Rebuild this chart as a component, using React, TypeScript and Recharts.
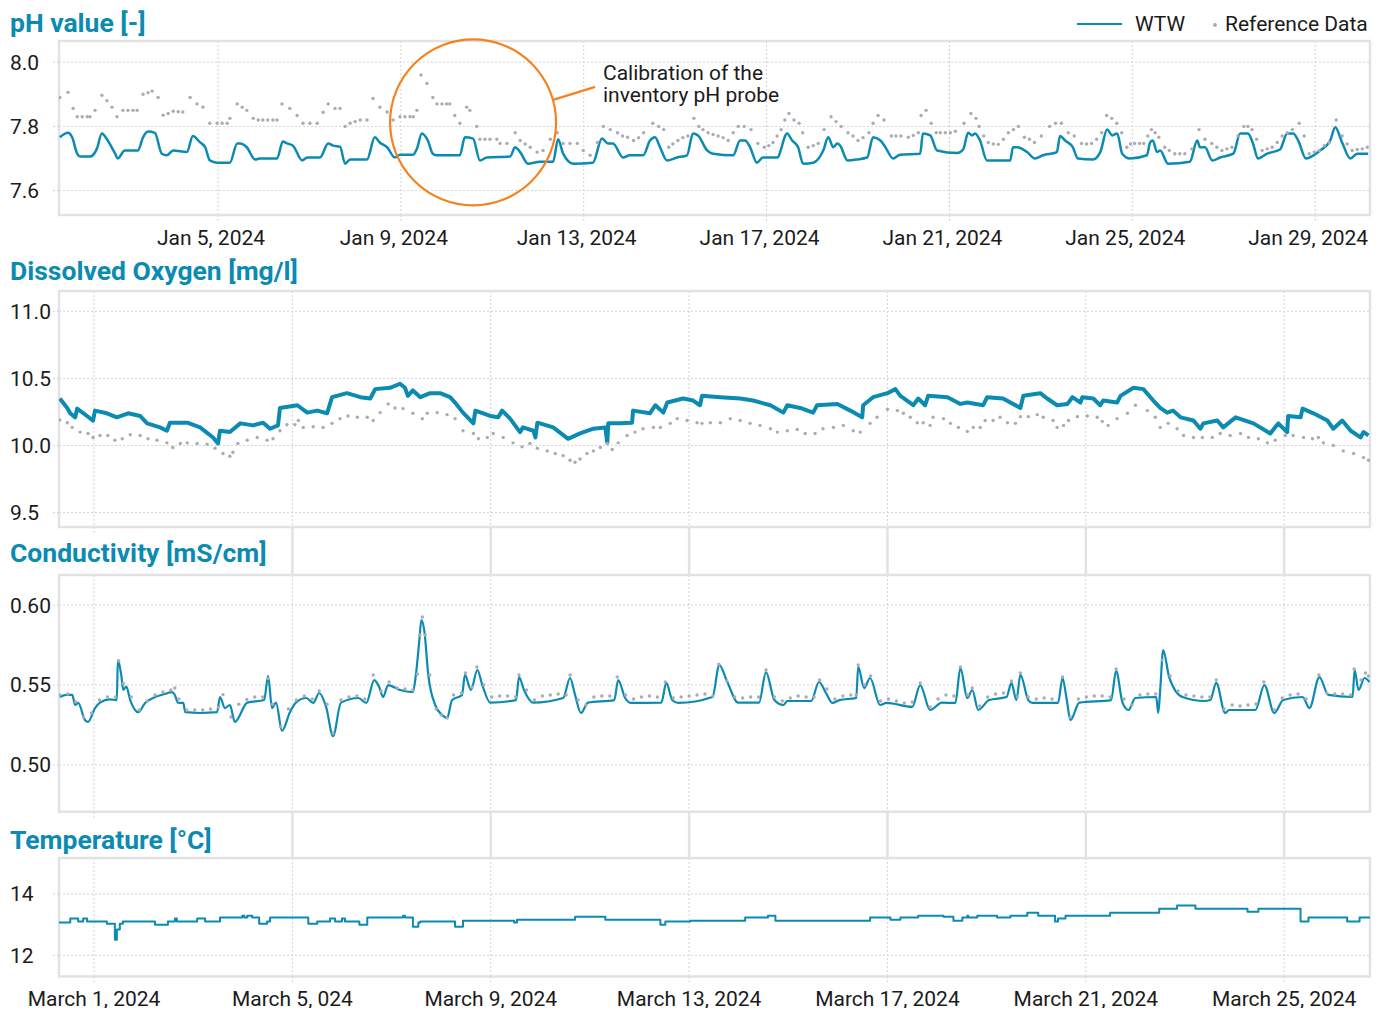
import React from 'react';
import {
  LineChart,
  Line,
  XAxis,
  YAxis,
  CartesianGrid,
  ReferenceArea,
  ReferenceDot,
  ReferenceLine,
} from 'recharts';

type Pt = [number, number];

const BLUE = '#0b8ab2';
const DOT = '#a9abb5';
const FRAME = '#e1e1e6';
const GRID = '#d3d3d8';
const ORANGE = '#f5821f';
const INK = '#1b1b1b';
const FONT = 'Roboto, "Noto Sans", sans-serif';
const FS = 21;

// ---- pH, January 2024 (x = day of month) ----
const phTicks = [5, 9, 13, 17, 21, 25, 29];
const phYTicks = [7.6, 7.8, 8.0];

const phWtw: Pt[] = [
  [1.54, 7.766], [1.72, 7.78], [1.81, 7.766], [1.92, 7.715], [1.98, 7.706], [2.2, 7.706], [2.35, 7.73],
  [2.46, 7.778], [2.57, 7.76], [2.75, 7.715], [2.81, 7.7], [2.96, 7.725], [3.25, 7.725], [3.36, 7.766],
  [3.47, 7.784], [3.62, 7.78], [3.77, 7.715], [3.88, 7.71], [4.02, 7.725], [4.32, 7.72], [4.45, 7.77],
  [4.61, 7.75], [4.72, 7.735], [4.82, 7.694], [4.98, 7.687], [5.26, 7.687], [5.42, 7.747], [5.48, 7.747],
  [5.63, 7.735], [5.81, 7.697], [5.92, 7.7], [6.29, 7.7], [6.42, 7.753], [6.51, 7.747], [6.64, 7.74],
  [6.84, 7.694], [6.95, 7.703], [7.23, 7.703], [7.41, 7.747], [7.52, 7.74], [7.67, 7.737], [7.78, 7.684],
  [7.89, 7.697], [8.26, 7.697], [8.43, 7.766], [8.54, 7.75], [8.7, 7.735], [8.87, 7.703], [8.98, 7.712],
  [9.27, 7.712], [9.35, 7.73], [9.46, 7.778], [9.59, 7.756], [9.7, 7.715], [9.79, 7.71], [10.29, 7.71],
  [10.4, 7.766], [10.58, 7.762], [10.73, 7.694], [10.88, 7.703], [11.39, 7.706], [11.5, 7.735], [11.61, 7.72],
  [11.78, 7.684], [12.04, 7.69], [12.33, 7.69], [12.44, 7.76], [12.55, 7.715], [12.77, 7.684], [13.2, 7.687],
  [13.4, 7.762], [13.53, 7.747], [13.64, 7.747], [13.86, 7.703], [14.01, 7.71], [14.3, 7.71], [14.45, 7.756],
  [14.56, 7.766], [14.67, 7.735], [14.82, 7.694], [15.04, 7.703], [15.26, 7.71], [15.39, 7.778], [15.5, 7.772],
  [15.7, 7.725], [15.83, 7.715], [16.27, 7.71], [16.42, 7.756], [16.53, 7.756], [16.64, 7.735], [16.79, 7.687],
  [16.92, 7.703], [17.23, 7.703], [17.45, 7.778], [17.56, 7.756], [17.69, 7.735], [17.8, 7.684], [18.02, 7.687],
  [18.24, 7.725], [18.35, 7.766], [18.46, 7.735], [18.55, 7.747], [18.61, 7.74], [18.77, 7.694], [18.98, 7.697],
  [19.2, 7.703], [19.33, 7.766], [19.49, 7.756], [19.6, 7.735], [19.77, 7.7], [19.92, 7.712], [20.36, 7.715],
  [20.42, 7.778], [20.58, 7.772], [20.73, 7.725], [21.17, 7.717], [21.3, 7.728], [21.41, 7.78], [21.5, 7.772],
  [21.56, 7.778], [21.67, 7.756], [21.82, 7.694], [22.33, 7.694], [22.39, 7.735], [22.48, 7.735], [22.7, 7.72],
  [22.87, 7.7], [23.05, 7.71], [23.35, 7.72], [23.42, 7.77], [23.53, 7.756], [23.7, 7.735], [23.81, 7.7],
  [24.14, 7.697], [24.3, 7.72], [24.45, 7.79], [24.56, 7.772], [24.67, 7.778], [24.78, 7.715], [24.95, 7.7],
  [25.32, 7.71], [25.39, 7.75], [25.45, 7.756], [25.54, 7.72], [25.61, 7.725], [25.78, 7.684], [26.26, 7.69],
  [26.42, 7.756], [26.48, 7.735], [26.59, 7.735], [26.75, 7.694], [26.92, 7.703], [27.21, 7.715], [27.36, 7.778],
  [27.53, 7.778], [27.64, 7.747], [27.75, 7.7], [27.95, 7.715], [28.23, 7.728], [28.39, 7.778], [28.52, 7.778],
  [28.63, 7.756], [28.8, 7.7], [29.11, 7.725], [29.33, 7.756], [29.44, 7.797], [29.59, 7.75], [29.77, 7.7],
  [29.92, 7.715], [30.16, 7.715],
];

const phRef: Pt[] = [
  [1.54, 7.89], [1.72, 7.906], [1.83, 7.856], [1.92, 7.83], [2.03, 7.83], [2.14, 7.83], [2.2, 7.83], [2.31, 7.85],
  [2.46, 7.897], [2.57, 7.88], [2.68, 7.86], [2.79, 7.83], [2.92, 7.85], [3.03, 7.85], [3.14, 7.85], [3.23, 7.85],
  [3.36, 7.9], [3.47, 7.905], [3.56, 7.91], [3.69, 7.89], [3.8, 7.835], [3.91, 7.84], [4.02, 7.847], [4.13, 7.846],
  [4.23, 7.845], [4.39, 7.89], [4.54, 7.87], [4.67, 7.86], [4.82, 7.81], [4.98, 7.81], [5.09, 7.81], [5.2, 7.81],
  [5.26, 7.825], [5.42, 7.87], [5.53, 7.86], [5.63, 7.85], [5.77, 7.825], [5.88, 7.82], [5.98, 7.82], [6.09, 7.82],
  [6.2, 7.82], [6.29, 7.82], [6.4, 7.87], [6.57, 7.856], [6.73, 7.834], [6.86, 7.81], [7.01, 7.81], [7.17, 7.81],
  [7.3, 7.844], [7.41, 7.87], [7.56, 7.856], [7.67, 7.856], [7.78, 7.8], [7.89, 7.81], [8.0, 7.815], [8.11, 7.82],
  [8.26, 7.82], [8.39, 7.887], [8.54, 7.86], [8.7, 7.845], [8.83, 7.82], [8.98, 7.83], [9.09, 7.83], [9.2, 7.83],
  [9.27, 7.83], [9.35, 7.85], [9.44, 7.96], [9.57, 7.934], [9.7, 7.89], [9.79, 7.87], [9.9, 7.87], [10.0, 7.87],
  [10.07, 7.87], [10.18, 7.834], [10.29, 7.81], [10.44, 7.86], [10.51, 7.85], [10.66, 7.8], [10.73, 7.76],
  [10.84, 7.76], [10.95, 7.76], [11.1, 7.76], [11.17, 7.747], [11.32, 7.747], [11.5, 7.78], [11.61, 7.756],
  [11.72, 7.745], [11.83, 7.735], [11.98, 7.72], [12.11, 7.725], [12.27, 7.76], [12.42, 7.78], [12.55, 7.747],
  [12.7, 7.747], [12.86, 7.747], [12.99, 7.725], [13.14, 7.71], [13.3, 7.75], [13.43, 7.8], [13.58, 7.79],
  [13.74, 7.78], [13.85, 7.77], [13.96, 7.766], [14.09, 7.756], [14.2, 7.765], [14.31, 7.78], [14.51, 7.81],
  [14.64, 7.8], [14.75, 7.79], [14.86, 7.735], [14.95, 7.745], [15.06, 7.756], [15.17, 7.765], [15.28, 7.77],
  [15.41, 7.825], [15.52, 7.8], [15.61, 7.79], [15.72, 7.78], [15.83, 7.775], [15.94, 7.77], [16.05, 7.765],
  [16.16, 7.756], [16.27, 7.78], [16.38, 7.8], [16.51, 7.8], [16.66, 7.79], [16.81, 7.747], [16.95, 7.735],
  [17.05, 7.74], [17.14, 7.75], [17.23, 7.77], [17.32, 7.79], [17.4, 7.82], [17.49, 7.84], [17.6, 7.82],
  [17.71, 7.81], [17.79, 7.78], [17.91, 7.735], [18.02, 7.74], [18.13, 7.747], [18.26, 7.79], [18.41, 7.83],
  [18.52, 7.815], [18.63, 7.8], [18.78, 7.78], [18.89, 7.77], [19.0, 7.756], [19.11, 7.765], [19.24, 7.78],
  [19.33, 7.81], [19.44, 7.834], [19.57, 7.82], [19.73, 7.77], [19.83, 7.77], [19.94, 7.77], [20.1, 7.766],
  [20.21, 7.772], [20.32, 7.78], [20.38, 7.834], [20.49, 7.85], [20.6, 7.81], [20.71, 7.78], [20.8, 7.78],
  [20.91, 7.78], [21.02, 7.78], [21.13, 7.785], [21.32, 7.81], [21.47, 7.84], [21.58, 7.825], [21.65, 7.8],
  [21.75, 7.77], [21.85, 7.75], [21.96, 7.745], [22.07, 7.744], [22.18, 7.76], [22.29, 7.78], [22.4, 7.79],
  [22.51, 7.8], [22.64, 7.766], [22.75, 7.76], [22.86, 7.75], [23.01, 7.77], [23.19, 7.8], [23.32, 7.81],
  [23.45, 7.81], [23.6, 7.78], [23.73, 7.77], [23.89, 7.747], [24.0, 7.745], [24.11, 7.747], [24.22, 7.76],
  [24.33, 7.78], [24.44, 7.834], [24.55, 7.825], [24.66, 7.81], [24.77, 7.78], [24.88, 7.735], [24.96, 7.745],
  [25.05, 7.747], [25.16, 7.747], [25.25, 7.747], [25.34, 7.77], [25.42, 7.79], [25.5, 7.78], [25.58, 7.766],
  [25.71, 7.735], [25.81, 7.725], [25.93, 7.715], [26.04, 7.715], [26.15, 7.715], [26.3, 7.73], [26.46, 7.79],
  [26.59, 7.76], [26.74, 7.747], [26.85, 7.735], [26.96, 7.725], [27.07, 7.73], [27.18, 7.735], [27.31, 7.77],
  [27.44, 7.8], [27.53, 7.8], [27.62, 7.79], [27.72, 7.76], [27.84, 7.725], [27.95, 7.73], [28.06, 7.735],
  [28.17, 7.75], [28.28, 7.77], [28.39, 7.78], [28.5, 7.79], [28.65, 7.81], [28.76, 7.77], [28.87, 7.715],
  [28.98, 7.72], [29.09, 7.725], [29.2, 7.74], [29.31, 7.75], [29.46, 7.82], [29.59, 7.77], [29.7, 7.745],
  [29.81, 7.725], [29.92, 7.728], [30.03, 7.73], [30.14, 7.735],
];

// ---- March 2024 panels (x = day of month) ----
const marchTicks = [1, 5, 9, 13, 17, 21, 25];
const marchTickLabels = [
  'March 1, 2024', 'March 5, 024', 'March 9, 2024', 'March 13, 2024',
  'March 17, 2024', 'March 21, 2024', 'March 25, 2024',
];
const doYTicks = [9.5, 10.0, 10.5, 11.0];
const condYTicks = [0.5, 0.55, 0.6];
const tempYTicks = [12, 14];

const doWtw: Pt[] = [
  [0.31, 10.35], [0.46, 10.28], [0.52, 10.24], [0.62, 10.21], [0.66, 10.275], [0.86, 10.22], [0.98, 10.186],
  [1.02, 10.26], [1.26, 10.24], [1.46, 10.21], [1.69, 10.24], [1.93, 10.22], [2.07, 10.165], [2.33, 10.135],
  [2.47, 10.11], [2.53, 10.17], [2.88, 10.17], [3.14, 10.135], [3.4, 10.06], [3.5, 10.015], [3.54, 10.11],
  [3.74, 10.1], [3.95, 10.165], [4.21, 10.15], [4.41, 10.17], [4.55, 10.125], [4.71, 10.15], [4.75, 10.28],
  [5.1, 10.3], [5.3, 10.245], [5.5, 10.26], [5.7, 10.24], [5.8, 10.36], [6.1, 10.39], [6.37, 10.36],
  [6.57, 10.35], [6.67, 10.42], [6.97, 10.43], [7.17, 10.46], [7.27, 10.43], [7.33, 10.37], [7.43, 10.41],
  [7.58, 10.36], [7.78, 10.39], [7.98, 10.39], [8.18, 10.36], [8.28, 10.32], [8.44, 10.245], [8.65, 10.165],
  [8.69, 10.26], [8.99, 10.22], [9.15, 10.21], [9.23, 10.26], [9.39, 10.2], [9.59, 10.1], [9.65, 10.135],
  [9.86, 10.11], [9.9, 10.06], [9.94, 10.17], [10.26, 10.135], [10.56, 10.05], [10.8, 10.09], [11.07, 10.125],
  [11.31, 10.135], [11.35, 10.02], [11.37, 10.165], [11.61, 10.165], [11.85, 10.17], [11.87, 10.26],
  [12.21, 10.24], [12.32, 10.3], [12.48, 10.245], [12.56, 10.32], [12.88, 10.35], [13.08, 10.335],
  [13.22, 10.3], [13.26, 10.37], [13.63, 10.36], [14.03, 10.35], [14.29, 10.335], [14.64, 10.3],
  [14.9, 10.245], [14.98, 10.3], [15.24, 10.28], [15.5, 10.245], [15.58, 10.3], [15.99, 10.31],
  [16.25, 10.26], [16.49, 10.21], [16.51, 10.3], [16.71, 10.36], [17.0, 10.39], [17.16, 10.42],
  [17.26, 10.37], [17.52, 10.3], [17.62, 10.35], [17.76, 10.3], [17.82, 10.37], [18.21, 10.36],
  [18.47, 10.31], [18.61, 10.32], [18.93, 10.3], [19.01, 10.36], [19.33, 10.35], [19.68, 10.28],
  [19.74, 10.37], [20.08, 10.39], [20.22, 10.35], [20.42, 10.3], [20.63, 10.31], [20.73, 10.36],
  [20.89, 10.32], [20.93, 10.36], [21.15, 10.35], [21.29, 10.3], [21.35, 10.335], [21.63, 10.32],
  [21.7, 10.37], [21.96, 10.43], [22.16, 10.42], [22.36, 10.335], [22.5, 10.28], [22.64, 10.245],
  [22.76, 10.26], [22.91, 10.21], [23.17, 10.186], [23.31, 10.125], [23.37, 10.165], [23.65, 10.186],
  [23.77, 10.135], [24.02, 10.21], [24.38, 10.165], [24.72, 10.09], [24.88, 10.165], [25.06, 10.1],
  [25.08, 10.22], [25.33, 10.21], [25.37, 10.275], [25.59, 10.24], [25.87, 10.186], [25.99, 10.125],
  [26.17, 10.186], [26.34, 10.11], [26.54, 10.06], [26.6, 10.1], [26.7, 10.075],
];

const doRef: Pt[] = [
  [0.31, 10.19], [0.46, 10.17], [0.56, 10.135], [0.72, 10.1], [0.88, 10.09], [0.98, 10.06], [1.12, 10.075],
  [1.28, 10.075], [1.42, 10.04], [1.57, 10.05], [1.73, 10.08], [1.93, 10.075], [2.09, 10.05], [2.27, 10.04],
  [2.47, 10.02], [2.59, 9.985], [2.74, 10.015], [2.88, 10.02], [3.08, 10.015], [3.28, 10.01], [3.44, 9.98],
  [3.6, 9.94], [3.74, 9.92], [3.8, 9.95], [3.9, 10.015], [4.09, 10.04], [4.29, 10.06], [4.49, 10.04],
  [4.61, 10.05], [4.75, 10.11], [4.89, 10.155], [5.05, 10.155], [5.12, 10.186], [5.22, 10.135],
  [5.42, 10.14], [5.62, 10.135], [5.8, 10.165], [5.96, 10.2], [6.12, 10.22], [6.31, 10.21], [6.51, 10.21],
  [6.63, 10.186], [6.77, 10.245], [6.93, 10.31], [7.07, 10.28], [7.23, 10.275], [7.43, 10.24], [7.62, 10.2],
  [7.72, 10.24], [7.92, 10.245], [8.12, 10.23], [8.28, 10.2], [8.44, 10.11], [8.65, 10.09], [8.75, 10.05],
  [8.93, 10.06], [9.05, 10.09], [9.25, 10.06], [9.45, 10.02], [9.63, 9.99], [9.79, 10.015], [9.94, 9.98],
  [10.14, 9.96], [10.3, 9.94], [10.46, 9.925], [10.6, 9.89], [10.7, 9.875], [10.8, 9.9], [10.94, 9.94],
  [11.07, 9.96], [11.21, 9.985], [11.35, 10.015], [11.45, 9.97], [11.57, 10.02], [11.75, 10.075],
  [11.91, 10.1], [12.07, 10.125], [12.28, 10.135], [12.42, 10.135], [12.62, 10.165], [12.76, 10.2],
  [12.96, 10.186], [13.16, 10.17], [13.26, 10.165], [13.43, 10.17], [13.63, 10.17], [13.83, 10.2],
  [14.03, 10.186], [14.23, 10.165], [14.43, 10.15], [14.64, 10.125], [14.78, 10.1], [14.98, 10.11],
  [15.18, 10.12], [15.34, 10.09], [15.54, 10.09], [15.7, 10.125], [15.91, 10.135], [16.11, 10.15],
  [16.31, 10.11], [16.45, 10.1], [16.65, 10.165], [16.79, 10.21], [17.0, 10.27], [17.2, 10.26],
  [17.32, 10.24], [17.46, 10.21], [17.6, 10.17], [17.72, 10.17], [17.86, 10.15], [17.92, 10.21],
  [18.13, 10.2], [18.27, 10.165], [18.43, 10.135], [18.61, 10.105], [18.73, 10.135], [18.87, 10.135],
  [18.97, 10.186], [19.13, 10.186], [19.27, 10.21], [19.42, 10.17], [19.58, 10.165], [19.68, 10.215],
  [19.84, 10.215], [20.02, 10.23], [20.14, 10.21], [20.34, 10.186], [20.42, 10.135], [20.55, 10.15],
  [20.65, 10.186], [20.83, 10.215], [21.03, 10.22], [21.23, 10.21], [21.33, 10.18], [21.45, 10.15],
  [21.63, 10.2], [21.84, 10.24], [22.0, 10.3], [22.24, 10.26], [22.4, 10.21], [22.5, 10.135],
  [22.66, 10.165], [22.84, 10.125], [22.97, 10.075], [23.17, 10.06], [23.35, 10.06], [23.55, 10.06],
  [23.71, 10.09], [23.91, 10.075], [24.12, 10.09], [24.28, 10.06], [24.48, 10.05], [24.66, 10.02],
  [24.82, 10.04], [25.02, 10.075], [25.18, 10.075], [25.39, 10.06], [25.57, 10.05], [25.69, 10.06],
  [25.79, 10.02], [25.99, 10.0], [26.19, 9.96], [26.4, 9.94], [26.6, 9.91], [26.7, 9.89],
];

const condWtw: Pt[] = [
  [0.31, 0.5425], [0.44, 0.5438], [0.56, 0.5438], [0.62, 0.5375], [0.68, 0.5388], [0.82, 0.528], [0.88, 0.527],
  [1.02, 0.5356], [1.12, 0.539], [1.32, 0.541], [1.46, 0.5406], [1.48, 0.5656], [1.55, 0.556], [1.59, 0.547],
  [1.65, 0.549], [1.73, 0.5406], [1.89, 0.533], [2.03, 0.5388], [2.19, 0.5419], [2.43, 0.5444], [2.57, 0.5456],
  [2.63, 0.5438], [2.69, 0.539], [2.8, 0.5388], [2.84, 0.533], [3.14, 0.5325], [3.48, 0.533], [3.54, 0.5425],
  [3.64, 0.5356], [3.74, 0.5375], [3.84, 0.527], [4.09, 0.539], [4.43, 0.5406], [4.51, 0.5556], [4.59, 0.5356],
  [4.67, 0.539], [4.79, 0.5213], [4.95, 0.533], [5.07, 0.539], [5.28, 0.5419], [5.42, 0.5388], [5.54, 0.545],
  [5.68, 0.5363], [5.82, 0.5181], [5.98, 0.539], [6.33, 0.5419], [6.49, 0.5388], [6.65, 0.5531], [6.75, 0.5488],
  [6.83, 0.5425], [6.93, 0.55], [7.17, 0.5469], [7.43, 0.5456], [7.49, 0.5563], [7.56, 0.578], [7.6, 0.5906],
  [7.66, 0.584], [7.74, 0.5563], [7.88, 0.5375], [8.02, 0.5313], [8.12, 0.5294], [8.22, 0.5406], [8.42, 0.5438],
  [8.48, 0.5563], [8.6, 0.5469], [8.73, 0.5594], [8.83, 0.55], [8.99, 0.539], [9.51, 0.5406], [9.57, 0.555],
  [9.67, 0.5469], [9.85, 0.539], [10.46, 0.5419], [10.6, 0.5544], [10.7, 0.5438], [10.82, 0.5325], [10.96, 0.539],
  [11.49, 0.5406], [11.57, 0.5531], [11.71, 0.5419], [11.83, 0.5388], [12.44, 0.539], [12.54, 0.5513],
  [12.66, 0.5406], [12.78, 0.5388], [13.47, 0.5425], [13.61, 0.5625], [13.77, 0.5519], [13.99, 0.539],
  [14.41, 0.539], [14.55, 0.5581], [14.72, 0.5406], [14.9, 0.5375], [14.98, 0.54], [15.46, 0.54], [15.62, 0.5519],
  [15.76, 0.545], [15.89, 0.5388], [16.03, 0.5406], [16.37, 0.5419], [16.41, 0.5613], [16.53, 0.5481],
  [16.65, 0.5544], [16.85, 0.5375], [16.98, 0.5388], [17.5, 0.5363], [17.66, 0.55], [17.86, 0.5344],
  [18.1, 0.539], [18.37, 0.5388], [18.47, 0.5606], [18.61, 0.5419], [18.71, 0.5469], [18.83, 0.5344],
  [19.05, 0.5406], [19.4, 0.5425], [19.5, 0.5513], [19.6, 0.5406], [19.68, 0.5563], [19.84, 0.5406],
  [19.92, 0.5388], [20.44, 0.5388], [20.53, 0.5544], [20.61, 0.5419], [20.69, 0.5281], [20.87, 0.539],
  [21.51, 0.5406], [21.61, 0.5588], [21.74, 0.539], [21.86, 0.5344], [22.0, 0.5419], [22.42, 0.5425],
  [22.46, 0.5325], [22.5, 0.547], [22.56, 0.5719], [22.68, 0.555], [22.95, 0.5425], [23.39, 0.54],
  [23.51, 0.5406], [23.63, 0.5513], [23.81, 0.5325], [23.89, 0.5344], [24.42, 0.5344], [24.6, 0.55],
  [24.8, 0.5325], [24.98, 0.5406], [25.37, 0.5425], [25.51, 0.5356], [25.71, 0.555], [25.89, 0.5438],
  [26.38, 0.5425], [26.42, 0.5594], [26.5, 0.5469], [26.62, 0.5544], [26.72, 0.5519],
];

const condRef: Pt[] = [
  [0.31, 0.5438], [0.47, 0.5444], [0.63, 0.5394], [0.79, 0.53], [0.95, 0.5325], [1.11, 0.5406], [1.27, 0.5425],
  [1.43, 0.5425], [1.5, 0.565], [1.59, 0.551], [1.75, 0.5425], [1.91, 0.5344], [2.07, 0.54], [2.23, 0.5438],
  [2.39, 0.5456], [2.55, 0.5469], [2.63, 0.5481], [2.71, 0.5413], [2.87, 0.5344], [3.03, 0.5344],
  [3.19, 0.5344], [3.35, 0.535], [3.51, 0.536], [3.6, 0.544], [3.76, 0.53], [3.92, 0.538], [4.08, 0.541],
  [4.24, 0.5425], [4.4, 0.5425], [4.51, 0.554], [4.6, 0.538], [4.76, 0.524], [4.92, 0.535], [5.08, 0.5406],
  [5.24, 0.5431], [5.4, 0.5413], [5.54, 0.5463], [5.7, 0.538], [5.82, 0.52], [5.98, 0.5406], [6.14, 0.5425],
  [6.3, 0.5431], [6.46, 0.5413], [6.63, 0.5563], [6.79, 0.5463], [6.95, 0.5519], [7.11, 0.5481],
  [7.27, 0.5475], [7.43, 0.5469], [7.52, 0.5569], [7.57, 0.5813], [7.62, 0.5925], [7.68, 0.5813],
  [7.77, 0.5563], [7.9, 0.535], [8.0, 0.5313], [8.12, 0.5294], [8.25, 0.5438], [8.41, 0.545], [8.49, 0.5575],
  [8.62, 0.5488], [8.72, 0.5613], [8.86, 0.55], [9.02, 0.5425], [9.18, 0.5431], [9.34, 0.5431], [9.5, 0.5425],
  [9.57, 0.5563], [9.72, 0.5469], [9.88, 0.5406], [10.04, 0.5431], [10.2, 0.5438], [10.36, 0.5444],
  [10.52, 0.5438], [10.6, 0.5563], [10.76, 0.5406], [10.92, 0.5375], [11.08, 0.5425], [11.24, 0.5431],
  [11.4, 0.5431], [11.55, 0.555], [11.72, 0.5438], [11.88, 0.5413], [12.04, 0.5425], [12.2, 0.5431],
  [12.36, 0.5425], [12.52, 0.5519], [12.68, 0.5419], [12.84, 0.5425], [13.0, 0.5431], [13.16, 0.5438],
  [13.32, 0.5444], [13.48, 0.5431], [13.6, 0.563], [13.76, 0.5525], [13.92, 0.5425], [14.08, 0.5419],
  [14.24, 0.5425], [14.4, 0.5425], [14.55, 0.5594], [14.72, 0.5425], [14.88, 0.54], [15.04, 0.5419],
  [15.2, 0.5431], [15.36, 0.5425], [15.52, 0.5425], [15.63, 0.5531], [15.78, 0.5475], [15.94, 0.5413],
  [16.1, 0.5431], [16.26, 0.5438], [16.37, 0.5438], [16.41, 0.5625], [16.54, 0.55], [16.66, 0.5556],
  [16.86, 0.54], [17.02, 0.5413], [17.18, 0.54], [17.34, 0.5388], [17.5, 0.5394], [17.66, 0.5513],
  [17.86, 0.5363], [18.02, 0.5413], [18.18, 0.5438], [18.34, 0.5431], [18.47, 0.5613], [18.62, 0.5438],
  [18.71, 0.5481], [18.86, 0.5369], [19.02, 0.5425], [19.18, 0.5444], [19.34, 0.545], [19.5, 0.5525],
  [19.62, 0.5425], [19.68, 0.5575], [19.84, 0.5425], [20.0, 0.5413], [20.16, 0.5419], [20.32, 0.5413],
  [20.53, 0.555], [20.69, 0.53], [20.85, 0.5413], [21.01, 0.5425], [21.17, 0.5431], [21.33, 0.5431],
  [21.49, 0.5425], [21.61, 0.56], [21.77, 0.5413], [21.93, 0.5375], [22.09, 0.5438], [22.25, 0.5444],
  [22.41, 0.5444], [22.54, 0.5656], [22.7, 0.5556], [22.86, 0.5463], [23.02, 0.5438], [23.18, 0.5431],
  [23.34, 0.5425], [23.5, 0.5425], [23.63, 0.5531], [23.79, 0.535], [23.95, 0.5375], [24.11, 0.5369],
  [24.27, 0.5375], [24.43, 0.5381], [24.59, 0.5519], [24.8, 0.5344], [24.96, 0.5419], [25.12, 0.5438],
  [25.28, 0.5444], [25.44, 0.5413], [25.7, 0.5563], [25.86, 0.545], [26.02, 0.5444], [26.18, 0.5444],
  [26.34, 0.5438], [26.41, 0.56], [26.55, 0.5531], [26.64, 0.5575], [26.7, 0.5556],
];

const tempWtw: Pt[] = [
  [0.29, 13.07], [0.52, 13.2], [0.68, 13.1], [0.78, 13.2], [0.86, 13.1], [1.26, 13.03], [1.42, 12.51],
  [1.46, 12.84], [1.52, 13.03], [1.58, 13.1], [2.23, 13.0], [2.49, 13.1], [2.63, 13.2], [2.67, 13.1],
  [3.08, 13.2], [3.24, 13.1], [3.54, 13.23], [3.99, 13.29], [4.03, 13.23], [4.09, 13.29], [4.19, 13.23],
  [4.33, 13.03], [4.49, 13.1], [4.55, 13.23], [5.32, 13.03], [5.5, 13.1], [5.76, 13.2], [5.86, 13.1],
  [6.0, 13.2], [6.06, 13.1], [6.35, 13.0], [6.51, 13.23], [7.23, 13.29], [7.27, 13.23], [7.43, 12.93],
  [7.54, 13.07], [7.58, 13.1], [8.28, 12.93], [8.44, 13.13], [9.47, 13.07], [9.53, 13.16], [10.7, 13.26],
  [11.31, 13.16], [12.42, 13.0], [12.52, 13.1], [13.02, 13.13], [14.13, 13.23], [14.59, 13.29],
  [14.74, 13.13], [16.65, 13.23], [17.06, 13.16], [17.26, 13.23], [17.62, 13.29], [18.13, 13.26],
  [18.33, 13.13], [18.51, 13.23], [18.61, 13.29], [18.63, 13.23], [18.81, 13.29], [19.21, 13.23],
  [19.48, 13.29], [19.82, 13.39], [20.04, 13.29], [20.38, 13.1], [20.44, 13.2], [20.59, 13.29],
  [21.49, 13.39], [22.48, 13.52], [22.84, 13.62], [23.21, 13.52], [24.26, 13.42], [24.48, 13.52],
  [25.33, 13.1], [25.49, 13.23], [26.27, 13.1], [26.52, 13.23], [26.73, 13.23],
];

const phDomain: [number, number] = [1.522, 30.2];
const marchDomain: [number, number] = [0.294, 26.73];

const toRows = (pts: Pt[]) => pts.map(([x, v]) => ({ x, v }));

function YTick(props: any) {
  const { y, payload, digits } = props;
  return (
    <text x={2} y={y} dy="0.355em" textAnchor="start" fontSize={FS} fill={INK} fontFamily={FONT}>
      {Number(payload.value).toFixed(digits)}
    </text>
  );
}

function XTick(props: any) {
  const { x, y, payload, fmt, shift } = props;
  return (
    <text x={x + shift} y={y} dy="0.71em" textAnchor="middle" fontSize={FS} fill={INK} fontFamily={FONT}>
      {fmt(payload.value)}
    </text>
  );
}

// renders no label, so only the tick line is drawn
const NoTick = () => <g />;

type Curve = 'linear' | 'monotone' | 'stepAfter';

interface PanelProps {
  top: number;
  height: number;
  marginTop: number;
  axisHeight: number;
  xDomain: [number, number];
  xTicks: number[];
  xLabel?: (v: number) => string;
  labelShift?: number;
  yDomain: [number, number];
  yTicks: number[];
  digits: number;
  wtw: Pt[];
  reference?: Pt[];
  lineWidth: number;
  curve: Curve;
  gapTicks?: number[];
  gapSize?: number;
  children?: React.ReactNode;
}

function Panel(p: PanelProps) {
  // a thin top axis whose long tick lines fill the gap above the panel
  const topMargin = p.gapTicks ? p.marginTop - 1 : p.marginTop;
  return (
    <div style={{ position: 'absolute', left: 0, top: p.top }}>
      <LineChart width={1368} height={p.height} margin={{ top: topMargin, right: 6, bottom: 0, left: 0 }}>
        <CartesianGrid stroke={GRID} strokeDasharray="2 2" />
        <ReferenceArea
          x1={p.xDomain[0]}
          x2={p.xDomain[1]}
          y1={p.yDomain[0]}
          y2={p.yDomain[1]}
          fill="none"
          stroke={FRAME}
          strokeWidth={2.5}
          ifOverflow="visible"
        />
        <XAxis
          type="number"
          dataKey="x"
          domain={p.xDomain}
          ticks={p.xTicks}
          interval={0}
          allowDataOverflow
          height={p.axisHeight}
          axisLine={false}
          tickLine={{ stroke: GRID, strokeDasharray: '2 2' }}
          tickSize={6}
          tickMargin={9}
          tick={p.xLabel ? <XTick fmt={p.xLabel} shift={p.labelShift ?? 0} /> : NoTick}
        />
        {p.gapTicks && (
          <XAxis
            xAxisId="gap"
            orientation="top"
            type="number"
            dataKey="x"
            domain={p.xDomain}
            ticks={p.gapTicks}
            interval={0}
            allowDataOverflow
            height={1}
            axisLine={false}
            tick={NoTick}
            tickSize={p.gapSize}
            tickLine={{ stroke: FRAME, strokeWidth: 2.5 }}
          />
        )}
        <YAxis
          type="number"
          domain={p.yDomain}
          ticks={p.yTicks}
          interval={0}
          allowDataOverflow
          width={51}
          axisLine={false}
          tickLine={{ stroke: GRID, strokeDasharray: '2 2' }}
          tickSize={6}
          tick={<YTick digits={p.digits} />}
        />
        {p.reference && (
          <Line
            data={toRows(p.reference)}
            dataKey="v"
            stroke="none"
            dot={{ r: 1.7, fill: DOT, stroke: 'none' }}
            activeDot={false}
            isAnimationActive={false}
          />
        )}
        <Line
          data={toRows(p.wtw)}
          dataKey="v"
          type={p.curve}
          stroke={BLUE}
          strokeWidth={p.lineWidth}
          strokeLinejoin="round"
          dot={false}
          activeDot={false}
          isAnimationActive={false}
        />
        {p.children}
      </LineChart>
    </div>
  );
}

const titleStyle = (top: number): React.CSSProperties => ({
  position: 'absolute',
  left: 2,
  top,
  fontFamily: FONT,
  fontWeight: 700,
  fontSize: 26.5,
  lineHeight: '26.5px',
  color: BLUE,
  whiteSpace: 'nowrap',
});

export default function App() {
  const gap = marchTicks.slice(1);
  return (
    <div style={{ position: 'relative', width: 1368, height: 1000, fontFamily: FONT, background: '#fff' }}>
      <Panel
        top={0}
        height={247}
        marginTop={33}
        axisHeight={40}
        xDomain={phDomain}
        xTicks={phTicks}
        xLabel={(v) => `Jan ${v}, 2024`}
        labelShift={-7}
        yDomain={[7.524, 8.066]}
        yTicks={phYTicks}
        digits={1}
        wtw={phWtw}
        reference={phRef}
        lineWidth={2.5}
        curve="monotone"
      >
        <ReferenceDot x={10.58} y={7.8125} r={83} fill="none" stroke={ORANGE} strokeWidth={2.2} ifOverflow="visible" />
        <ReferenceLine
          segment={[{ x: 12.33, y: 7.8826 }, { x: 13.25, y: 7.923 }]}
          stroke={ORANGE}
          strokeWidth={2.2}
          ifOverflow="visible"
        />
      </Panel>
      <Panel
        top={272.7}
        height={256}
        marginTop={10}
        axisHeight={10}
        xDomain={marchDomain}
        xTicks={marchTicks}
        yDomain={[9.393, 11.151]}
        yTicks={doYTicks}
        digits={1}
        wtw={doWtw}
        reference={doRef}
        lineWidth={4}
        curve="linear"
      />
      <Panel
        top={517}
        height={296.7}
        marginTop={50}
        axisHeight={10}
        xDomain={marchDomain}
        xTicks={marchTicks}
        yDomain={[0.4708, 0.6188]}
        yTicks={condYTicks}
        digits={2}
        wtw={condWtw}
        reference={condRef}
        lineWidth={2.2}
        curve="monotone"
        gapTicks={gap}
        gapSize={48.3}
      />
      <Panel
        top={800.3}
        height={208.4}
        marginTop={50}
        axisHeight={40}
        xDomain={marchDomain}
        xTicks={marchTicks}
        xLabel={(v) => marchTickLabels[marchTicks.indexOf(v)] ?? ''}
        yDomain={[11.316, 15.17]}
        yTicks={tempYTicks}
        digits={0}
        wtw={tempWtw}
        lineWidth={2}
        curve="stepAfter"
        gapTicks={gap}
        gapSize={46.6}
      />

      <div style={titleStyle(1.6)}>pH value [-]</div>
      <div style={titleStyle(250.1)}>Dissolved Oxygen [mg/l]</div>
      <div style={titleStyle(532.1)}>Conductivity [mS/cm]</div>
      <div style={titleStyle(818.6)}>Temperature [°C]</div>

      {/* legend */}
      <div style={{ position: 'absolute', left: 1069, top: 15, width: 45, height: 2, background: BLUE }} />
      <div style={{ position: 'absolute', left: 1127, top: 5.8, fontSize: FS, lineHeight: '21px', color: INK }}>WTW</div>
      <div style={{ position: 'absolute', left: 1205, top: 15, width: 4, height: 4, borderRadius: 2, background: DOT }} />
      <div style={{ position: 'absolute', left: 1217, top: 5.8, fontSize: FS, lineHeight: '21px', color: INK, whiteSpace: 'nowrap' }}>
        Reference Data
      </div>

      {/* annotation */}
      <div
        style={{
          position: 'absolute',
          left: 595,
          top: 55.4,
          fontSize: FS,
          lineHeight: '21.7px',
          color: INK,
          whiteSpace: 'nowrap',
        }}
      >
        Calibration of the
        <br />
        inventory pH probe
      </div>
    </div>
  );
}
